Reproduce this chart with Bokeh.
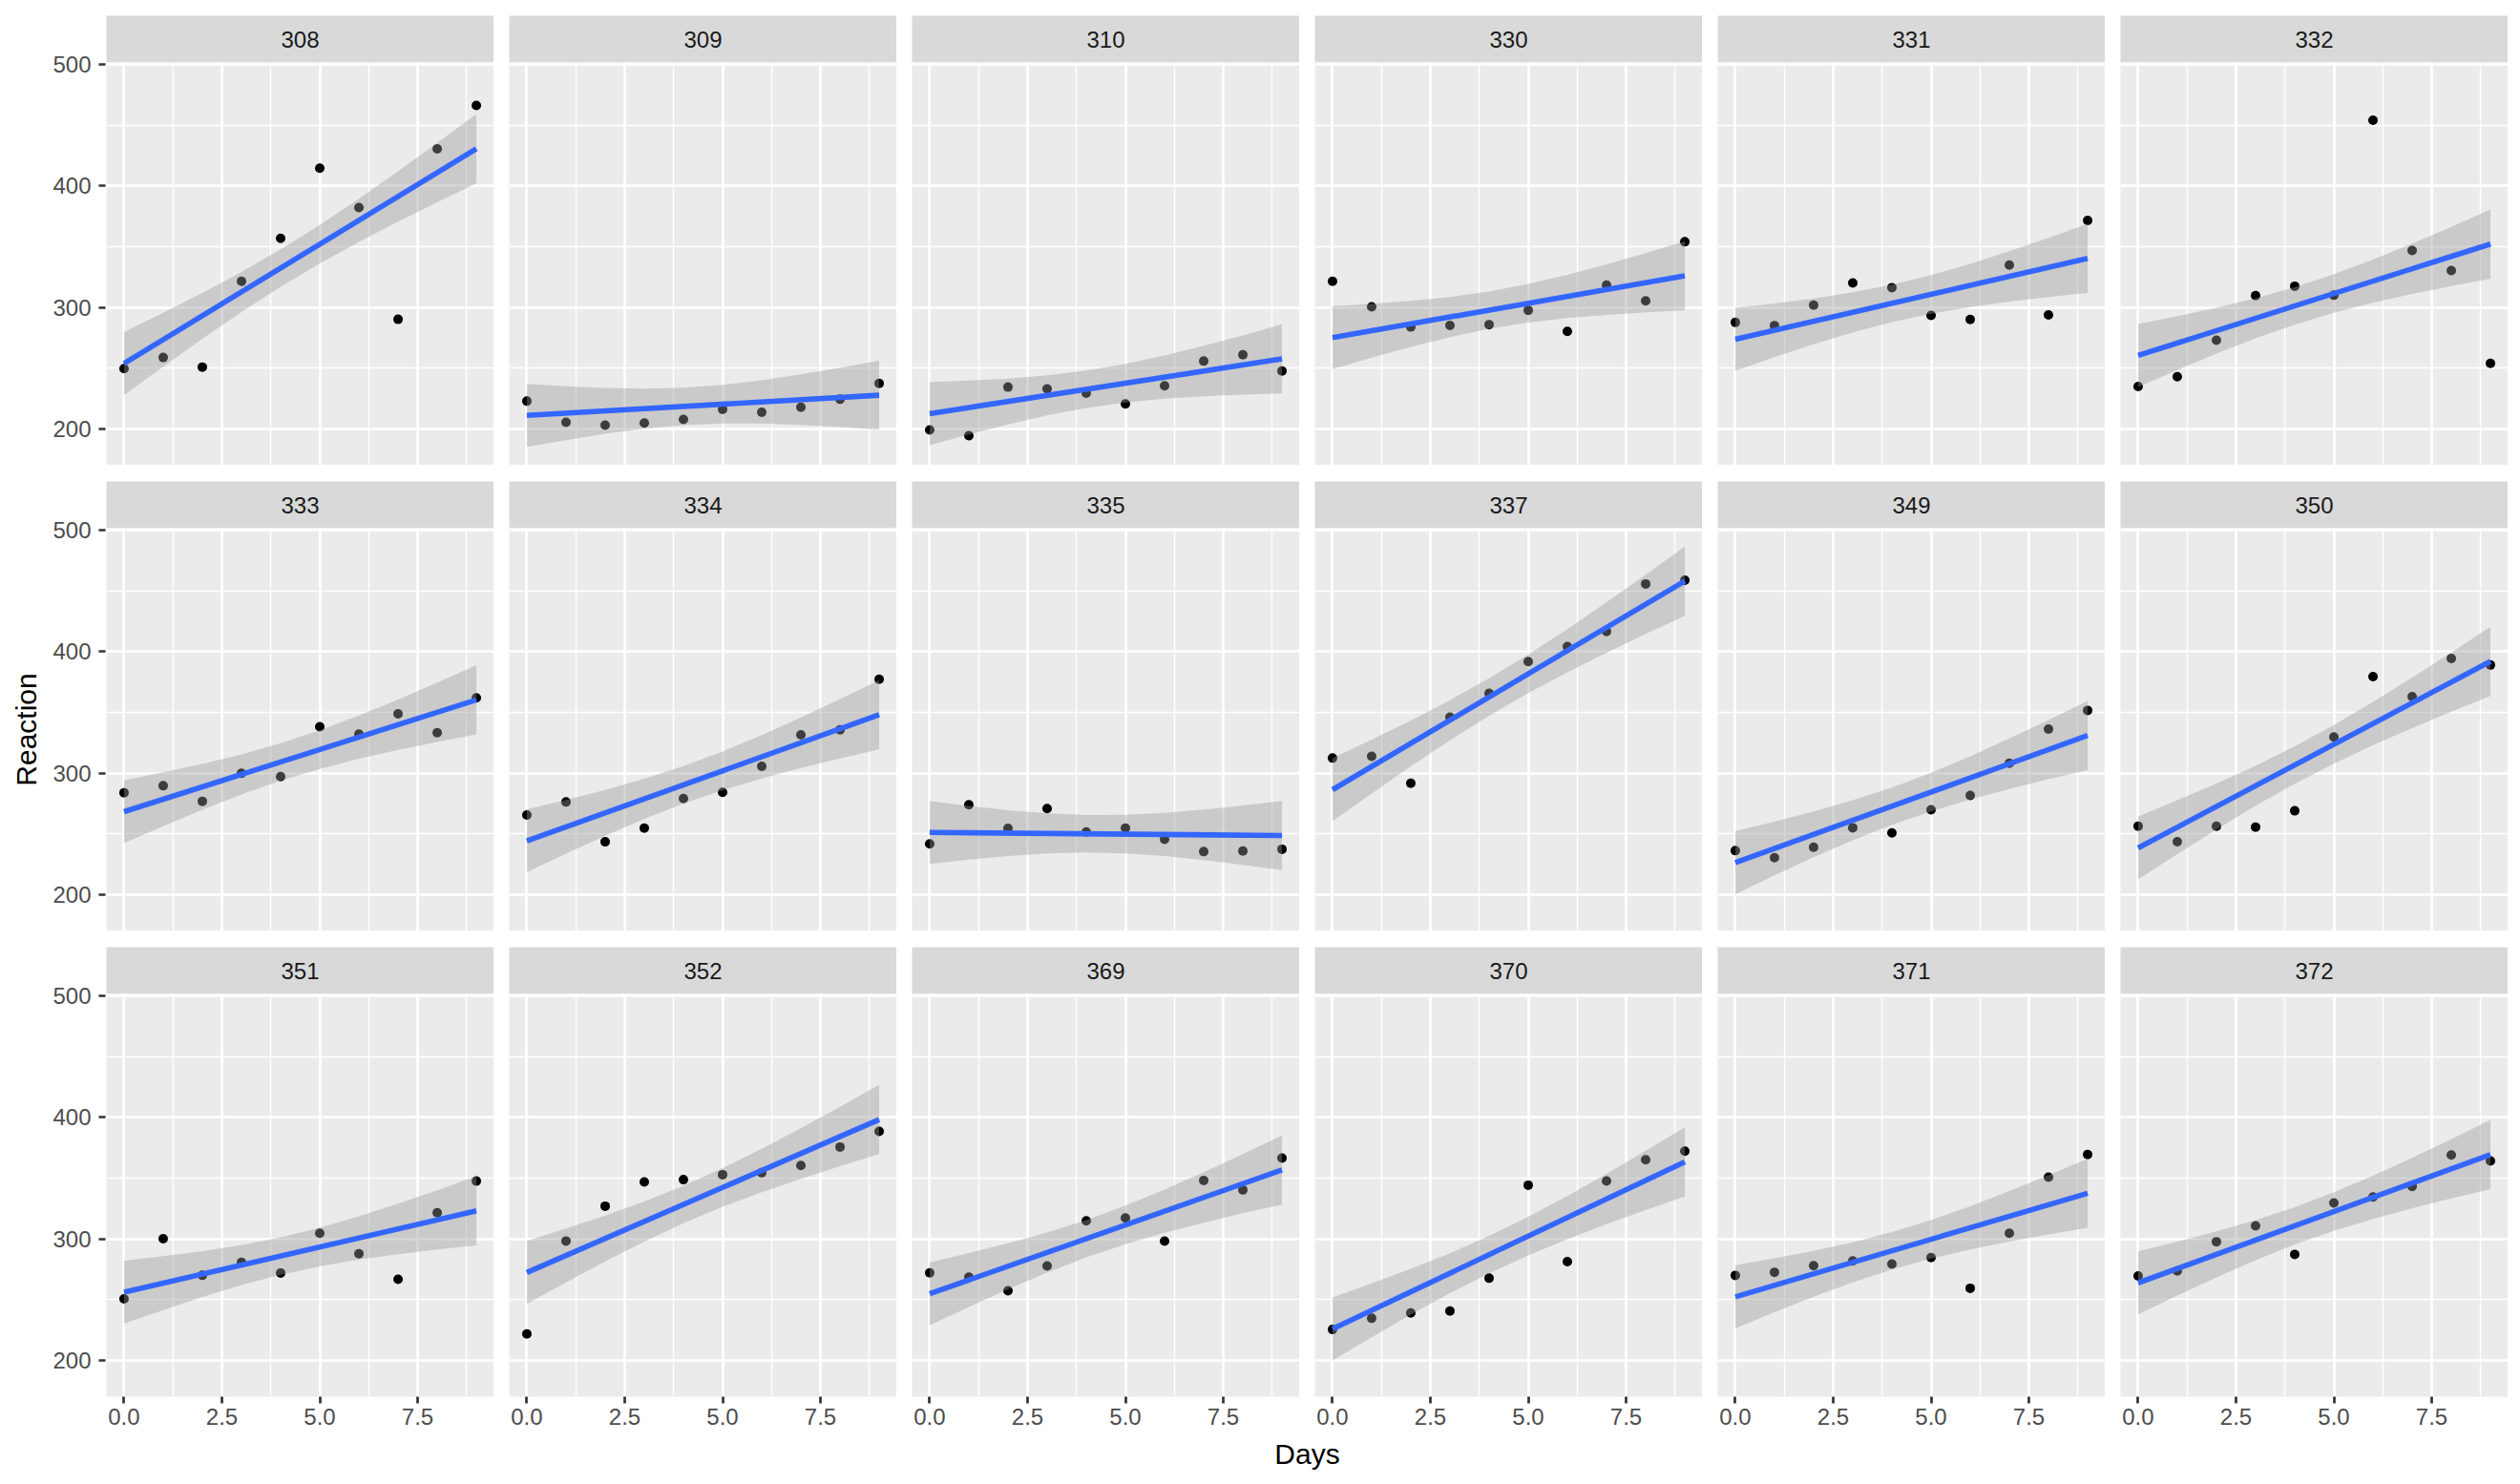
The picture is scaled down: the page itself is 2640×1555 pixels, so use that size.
import numpy as np
from bokeh.plotting import figure
from bokeh.layouts import column, row
from bokeh.models import Range1d, FixedTicker, PrintfTickFormatter, Spacer
from bokeh.embed import file_html
from bokeh.resources import INLINE
from bokeh.core.properties import value

# ---------------- data (sleepstudy) ----------------
days = [0, 1, 2, 3, 4, 5, 6, 7, 8, 9]
subjects = ["308", "309", "310", "330", "331", "332",
            "333", "334", "335", "337", "349", "350",
            "351", "352", "369", "370", "371", "372"]

r308 = [249.56, 258.70, 250.80, 321.44, 356.85, 414.69, 382.20, 290.15, 430.59, 466.35]
r309 = [222.73, 205.27, 202.98, 204.71, 207.72, 215.96, 213.63, 217.73, 224.30, 237.31]
r310 = [199.05, 194.33, 234.32, 232.84, 229.31, 220.46, 235.42, 255.75, 261.01, 247.52]
r330 = [321.54, 300.40, 283.86, 285.13, 285.80, 297.59, 280.24, 318.26, 305.35, 354.05]
r331 = [287.61, 285.00, 301.82, 320.12, 316.28, 293.32, 290.08, 334.82, 293.75, 371.58]
r332 = [234.86, 242.81, 272.96, 309.77, 317.46, 310.00, 454.16, 346.83, 330.30, 253.86]
r333 = [283.84, 289.56, 276.77, 299.81, 297.17, 338.17, 332.03, 348.84, 333.36, 362.04]
r334 = [265.47, 276.20, 243.36, 254.67, 279.02, 284.19, 305.52, 331.52, 335.75, 377.30]
r335 = [241.61, 273.95, 254.49, 270.80, 251.45, 254.64, 245.45, 235.31, 235.75, 237.25]
r337 = [312.37, 313.81, 291.61, 346.12, 365.73, 391.84, 404.26, 416.69, 455.86, 458.92]
r349 = [236.10, 230.32, 238.93, 254.92, 250.71, 269.77, 281.56, 308.10, 336.28, 351.65]
r350 = [256.30, 243.45, 256.20, 255.53, 268.92, 329.72, 379.44, 362.92, 394.49, 389.05]
r351 = [250.53, 300.06, 269.89, 280.59, 271.83, 304.63, 287.75, 266.60, 321.54, 347.57]
r352 = [221.68, 298.19, 326.88, 346.86, 348.74, 352.83, 354.43, 360.43, 375.64, 388.54]
r369 = [271.92, 268.44, 257.24, 277.66, 314.82, 317.21, 298.14, 348.12, 340.28, 366.51]
r370 = [225.26, 234.52, 238.90, 240.47, 267.54, 344.19, 281.15, 347.59, 365.16, 372.23]
r371 = [269.88, 272.44, 277.90, 281.79, 279.17, 284.51, 259.27, 304.63, 350.78, 369.47]
r372 = [269.41, 273.47, 297.60, 310.63, 287.17, 329.61, 334.48, 343.22, 369.14, 364.12]

reaction = {"308": r308, "309": r309, "310": r310, "330": r330, "331": r331, "332": r332,
            "333": r333, "334": r334, "335": r335, "337": r337, "349": r349, "350": r350,
            "351": r351, "352": r352, "369": r369, "370": r370, "371": r371, "372": r372}

# subject-specific fitted lines (as drawn): value at Days = 0 and slope per day
fit_intercept = [253.7, 211.0, 212.4, 275.1, 273.7, 260.4,
                 268.2, 244.2, 251.1, 286.3, 226.2, 238.3,
                 256.0, 272.3, 254.7, 225.8, 252.2, 263.7]
fit_slope = [19.67, 1.85, 5.02, 5.65, 7.40, 10.20,
             10.24, 11.54, -0.28, 19.10, 11.64, 17.08,
             7.45, 14.00, 11.34, 15.29, 9.48, 11.75]
# half-width of the grey confidence band at Days 0..9 (same in every panel)
band_half = [26.0, 22.2, 18.9, 16.5, 15.4, 15.9, 17.8, 20.8, 24.4, 28.5]

x_ticks = [0, 2.5, 5, 7.5]
x_minor = [1.25, 3.75, 6.25, 8.75]
y_ticks = [200, 300, 400, 500]
y_minor = [150, 250, 350, 450]

# ---------------- derived band / line values ----------------
xd = np.array(days, dtype=float)
hw = np.array(band_half)
fits = {}
for i, s in enumerate(subjects):
    centre = fit_intercept[i] + fit_slope[i] * xd
    fits[s] = (centre, centre - hw, centre + hw)

all_lo = min(min(min(reaction[s]), fits[s][1].min()) for s in subjects)
all_hi = max(max(max(reaction[s]), fits[s][2].max()) for s in subjects)
span = all_hi - all_lo
y_lo, y_hi = all_lo - 0.05 * span, all_hi + 0.05 * span
x_lo, x_hi = -0.45, 9.45

# ---------------- layout ----------------
FONT = "Liberation Sans"
PW, PH = 406, 422
LEFT = 111
TOP = 16
GAP_X = 16
GAP_Y = 17
STRIP_H = 49
BOTTOM = 40
DAYS_H = 40


def style_axis(ax, ticks, minor):
    ax.ticker = FixedTicker(ticks=ticks, minor_ticks=minor)
    ax.axis_line_color = None
    ax.major_tick_out = 7
    ax.major_tick_in = 0
    ax.minor_tick_out = 0
    ax.minor_tick_in = 0
    ax.major_tick_line_color = "#333333"
    ax.major_tick_line_width = 2.7
    ax.major_label_text_font = FONT
    ax.major_label_text_font_size = "24px"
    ax.major_label_text_color = "#4D4D4D"


blocks = []
for r in range(3):
    tb = TOP if r == 0 else GAP_Y
    bb = BOTTOM if r == 2 else 0

    # figure that carries the shared y axis of this row
    yf = figure(width=LEFT, height=tb + STRIP_H + PH + bb,
                x_range=Range1d(0, 1), y_range=Range1d(y_lo, y_hi),
                x_axis_location=None, y_axis_location="left",
                min_border_left=LEFT - 1, min_border_right=0,
                min_border_top=tb + STRIP_H, min_border_bottom=bb,
                background_fill_color="white", border_fill_color="white",
                outline_line_color=None, toolbar_location=None,
                output_backend="svg")
    yf.grid.visible = False
    ax = yf.yaxis[0]
    style_axis(ax, y_ticks, y_minor)
    ax.formatter = PrintfTickFormatter(format="%d")
    ax.major_label_standoff = 8
    if r == 1:
        ax.axis_label = "Reaction"
        ax.axis_label_text_font = FONT
        ax.axis_label_text_font_size = "30px"
        ax.axis_label_text_font_style = "normal"
        ax.axis_label_text_color = "black"
        ax.axis_label_standoff = 8

    strip_figs = []
    panel_figs = []
    for c in range(6):
        s = subjects[r * 6 + c]
        lb = 0 if c == 0 else GAP_X
        sf = figure(width=lb + PW, height=tb + STRIP_H,
                    x_range=Range1d(0, 1), y_range=Range1d(0, 1),
                    x_axis_location=None, y_axis_location=None,
                    min_border_left=lb, min_border_right=0,
                    min_border_top=tb, min_border_bottom=0,
                    background_fill_color="#D9D9D9", border_fill_color="white",
                    outline_line_color=None, toolbar_location=None,
                    output_backend="svg")
        sf.grid.visible = False
        sf.text(x=[0.5], y=[0.5], text=[s], text_align="center",
                text_baseline="middle", text_font=value(FONT),
                text_font_size="24px", text_color="#1A1A1A")
        strip_figs.append(sf)

        p = figure(width=lb + PW, height=PH + bb,
                   x_range=Range1d(x_lo, x_hi), y_range=Range1d(y_lo, y_hi),
                   x_axis_location="below" if r == 2 else None,
                   y_axis_location=None,
                   min_border_left=lb, min_border_right=0,
                   min_border_top=0, min_border_bottom=bb,
                   background_fill_color="#EBEBEB", border_fill_color="white",
                   outline_line_color=None, toolbar_location=None,
                   output_backend="svg")
        p.xgrid.ticker = FixedTicker(ticks=x_ticks, minor_ticks=x_minor)
        p.ygrid.ticker = FixedTicker(ticks=y_ticks, minor_ticks=y_minor)
        for g in (p.xgrid, p.ygrid):
            g.grid_line_color = "white"
            g.grid_line_width = 2.7
            g.minor_grid_line_color = "white"
            g.minor_grid_line_width = 1.4
        if r == 2:
            xa = p.xaxis[0]
            style_axis(xa, x_ticks, x_minor)
            xa.formatter = PrintfTickFormatter(format="%.1f")
            xa.major_label_standoff = 5

        centre, lo, hi = fits[s]
        p.scatter(days, reaction[s], size=10, fill_color="black", line_color=None)
        p.varea(x=days, y1=lo, y2=hi, fill_color="#999999", fill_alpha=0.4)
        p.line([days[0], days[-1]], [centre[0], centre[-1]],
               line_color="#3366FF", line_width=5.6)
        panel_figs.append(p)
    blocks.append(row(yf, column(row(strip_figs), row(panel_figs))))

days_fig = figure(width=6 * PW + 5 * GAP_X, height=DAYS_H,
                  x_range=Range1d(0, 1), y_range=Range1d(0, 1),
                  x_axis_location=None, y_axis_location=None,
                  min_border_left=0, min_border_right=0,
                  min_border_top=0, min_border_bottom=0,
                  background_fill_color="white", border_fill_color="white",
                  outline_line_color=None, toolbar_location=None,
                  output_backend="svg")
days_fig.grid.visible = False
days_fig.text(x=[0.5], y=[0.5], text=["Days"], text_align="center",
              text_baseline="middle", text_font=value(FONT),
              text_font_size="30px", text_color="black")
blocks.append(row(Spacer(width=LEFT, height=DAYS_H), days_fig))

page = column(blocks)
open("out.html", "w").write(file_html(page, INLINE))
